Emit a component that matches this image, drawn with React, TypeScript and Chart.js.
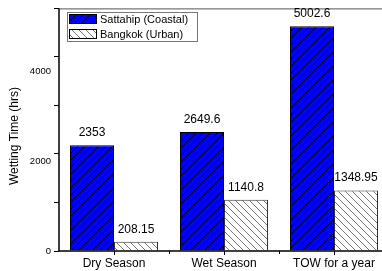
import React, { useEffect, useRef } from "react";
import { Chart, registerables } from "chart.js";

Chart.register(...registerables);

const categories = ["Dry Season", "Wet Season", "TOW for a year"];
const sattahip = [2353, 2649.6, 5002.6];
const bangkok = [208.15, 1140.8, 1348.95];
const sattahipLabels = ["2353", "2649.6", "5002.6"];
const bangkokLabels = ["208.15", "1140.8", "1348.95"];
const seriesNames = ["Sattahip (Coastal)", "Bangkok (Urban)"];
const yTickLabels = [0, 2000, 4000];
const yMax = 5400;

const FONT = "'Liberation Sans', Arial, sans-serif";

function makePattern(bg: string, line: string, forward: boolean): CanvasPattern | string {
  const s = 7;
  const c = document.createElement("canvas");
  c.width = s;
  c.height = s;
  const g = c.getContext("2d");
  if (!g) return bg;
  g.fillStyle = bg;
  g.fillRect(0, 0, s, s);
  g.strokeStyle = line;
  g.lineWidth = 0.9;
  g.beginPath();
  if (forward) {
    g.moveTo(0, s); g.lineTo(s, 0);
    g.moveTo(-1, 1); g.lineTo(1, -1);
    g.moveTo(s - 1, s + 1); g.lineTo(s + 1, s - 1);
  } else {
    g.moveTo(0, 0); g.lineTo(s, s);
    g.moveTo(-1, s - 1); g.lineTo(1, s + 1);
    g.moveTo(s - 1, -1); g.lineTo(s + 1, 1);
  }
  g.stroke();
  const p = g.createPattern(c, "repeat");
  return p || bg;
}

export default function App() {
  const ref = useRef<HTMLCanvasElement>(null);
  useEffect(() => {
    if (!ref.current) return;
    const blueP = makePattern("#0000ff", "#000000", true);
    const whiteP = makePattern("#ffffff", "#666666", false);

    const overlay = {
      id: "overlay",
      afterDraw(chart: any) {
        const ctx = chart.ctx;
        const a = chart.chartArea;
        ctx.save();
        // frame
        ctx.strokeStyle = "#555";
        ctx.lineWidth = 1;
        ctx.beginPath();
        ctx.moveTo(a.left, a.top + 0.5);
        ctx.lineTo(a.right, a.top + 0.5);
        ctx.lineTo(a.right, a.bottom);
        ctx.stroke();
        // axes
        ctx.strokeStyle = "#000";
        ctx.lineWidth = 1.5;
        ctx.beginPath();
        ctx.moveTo(a.left, a.top);
        ctx.lineTo(a.left, a.bottom);
        ctx.lineTo(a.right, a.bottom);
        ctx.stroke();
        // minor x ticks
        const xs = chart.scales.x;
        ctx.lineWidth = 1;
        for (let i = 0; i < categories.length - 1; i++) {
          const px = Math.round(xs.getPixelForValue(i + 0.5)) + 0.5;
          ctx.beginPath();
          ctx.moveTo(px, a.bottom);
          ctx.lineTo(px, a.bottom + 3);
          ctx.stroke();
        }
        // y tick labels
        const ys = chart.scales.y;
        ctx.fillStyle = "#000";
        ctx.font = `9.5px ${FONT}`;
        ctx.textAlign = "right";
        ctx.textBaseline = "middle";
        yTickLabels.forEach((v) => {
          ctx.fillText(String(v), a.left - 8, ys.getPixelForValue(v));
        });
        // y title
        ctx.font = `12px ${FONT}`;
        ctx.textAlign = "center";
        ctx.textBaseline = "middle";
        ctx.save();
        ctx.translate(15, 136);
        ctx.rotate(-Math.PI / 2);
        ctx.fillText("Wetting Time (hrs)", 0, 0);
        ctx.restore();
        // value labels
        ctx.font = `12px ${FONT}`;
        ctx.textBaseline = "alphabetic";
        const labelSets = [sattahipLabels, bangkokLabels];
        [0, 1].forEach((di) => {
          const meta = chart.getDatasetMeta(di);
          meta.data.forEach((bar: any, i: number) => {
            ctx.fillText(labelSets[di][i], bar.x, bar.y - 9);
          });
        });
        // legend
        ctx.fillStyle = "#fff";
        ctx.fillRect(67, 12.5, 131, 29);
        ctx.strokeStyle = "#777";
        ctx.lineWidth = 1;
        ctx.strokeRect(67.5, 12.5, 130, 29);
        const pats = [blueP, whiteP];
        const rows = [14.5, 29.5];
        rows.forEach((ry, k) => {
          ctx.fillStyle = pats[k];
          ctx.fillRect(69.5, ry, 27, 9);
          ctx.strokeStyle = "#000";
          ctx.strokeRect(69.5, ry, 27, 9);
          ctx.fillStyle = "#000";
          ctx.font = `11px ${FONT}`;
          ctx.textAlign = "left";
          ctx.textBaseline = "middle";
          ctx.fillText(seriesNames[k], 100, ry + 5);
        });
        ctx.restore();
      },
    };

    const chart = new Chart(ref.current, {
      type: "bar",
      data: {
        labels: categories,
        datasets: [
          {
            label: seriesNames[0],
            data: sattahip,
            backgroundColor: blueP as any,
            borderColor: "#000",
            borderWidth: 1,
            categoryPercentage: 0.8,
            barPercentage: 1,
          },
          {
            label: seriesNames[1],
            data: bangkok,
            backgroundColor: whiteP as any,
            borderColor: "#333",
            borderWidth: 1,
            categoryPercentage: 0.8,
            barPercentage: 1,
          },
        ],
      },
      options: {
        responsive: false,
        animation: false,
        devicePixelRatio: 1,
        layout: { padding: { top: 7, right: 3, left: 0, bottom: 0 } },
        plugins: { legend: { display: false }, tooltip: { enabled: false } },
        scales: {
          x: {
            grid: {
              offset: false,
              drawOnChartArea: false,
              tickLength: 4,
              tickColor: "#000",
            },
            border: { display: false },
            ticks: {
              color: "#000",
              font: { family: FONT, size: 12 },
              padding: 1,
              maxRotation: 0,
            },
            afterFit(scale: any) {
              scale.height = 20;
            },
          },
          y: {
            min: 0,
            max: yMax,
            grid: {
              drawOnChartArea: false,
              tickLength: 5,
              tickColor: "#000",
            },
            border: { display: false },
            ticks: {
              stepSize: 1000,
              autoSkip: false,
              color: "rgba(0,0,0,0)",
              font: { family: FONT, size: 9 },
              padding: 3,
              callback: () => "",
            },
            afterFit(scale: any) {
              scale.width = 59;
            },
          },
        },
      },
      plugins: [overlay],
    });
    return () => chart.destroy();
  }, []);

  return (
    <div
      style={{
        position: "fixed",
        left: 0,
        top: 0,
        width: 382,
        height: 271,
        overflow: "hidden",
        background: "#fff",
      }}
    >
      <canvas ref={ref} width={392} height={271} style={{ display: "block" }} />
    </div>
  );
}
